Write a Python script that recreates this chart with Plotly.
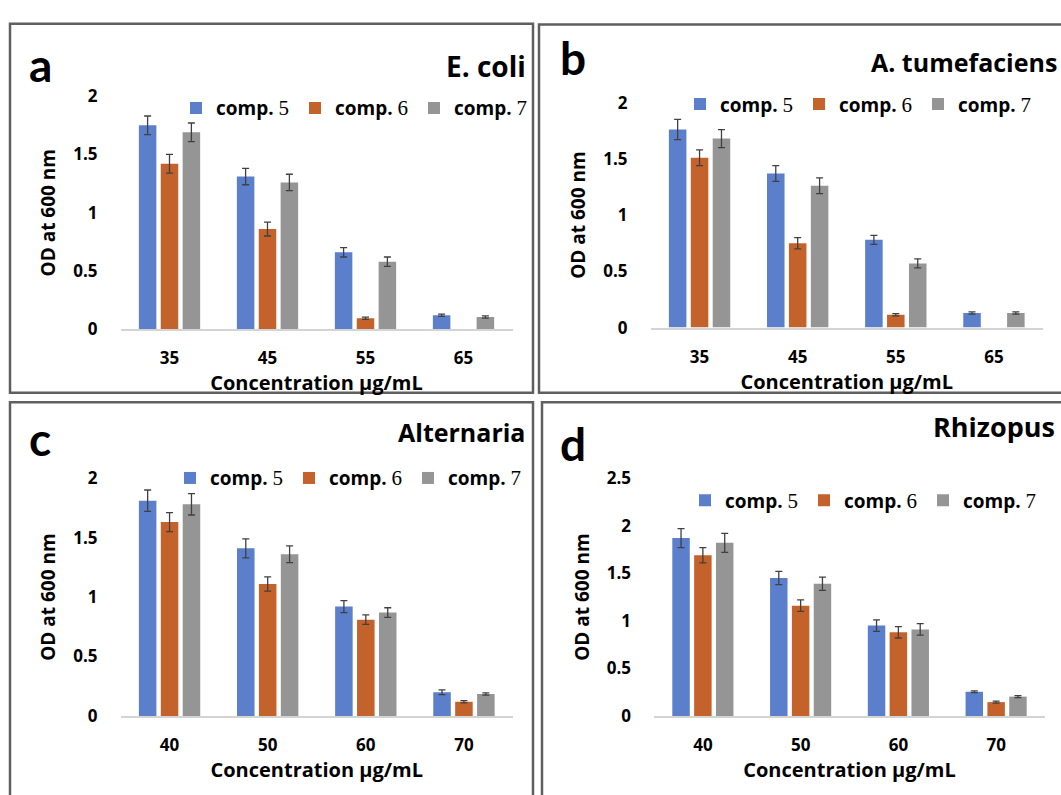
import plotly.graph_objects as go

W, H = 1061, 795

# ---------------- data ----------------
conc_bact = ["35", "45", "55", "65"]
conc_fung = ["40", "50", "60", "70"]
series_nums = ["5", "6", "7"]

# panel a: E. coli
ecoli_c5 = [1.75, 1.31, 0.66, 0.12]
ecoli_c6 = [1.42, 0.86, 0.094, None]
ecoli_c7 = [1.69, 1.26, 0.58, 0.105]
ecoli_e5 = [0.08, 0.07, 0.04, 0.01]
ecoli_e6 = [0.08, 0.06, 0.01, None]
ecoli_e7 = [0.08, 0.07, 0.04, 0.01]

# panel b: A. tumefaciens
atum_c5 = [1.76, 1.37, 0.78, 0.13]
atum_c6 = [1.51, 0.75, 0.114, None]
atum_c7 = [1.68, 1.26, 0.57, 0.13]
atum_e5 = [0.09, 0.07, 0.04, 0.01]
atum_e6 = [0.07, 0.05, 0.01, None]
atum_e7 = [0.08, 0.07, 0.04, 0.01]

# panel c: Alternaria
alt_c5 = [1.81, 1.41, 0.92, 0.20]
alt_c6 = [1.63, 1.11, 0.81, 0.12]
alt_c7 = [1.78, 1.36, 0.87, 0.185]
alt_e5 = [0.09, 0.08, 0.05, 0.02]
alt_e6 = [0.08, 0.06, 0.04, 0.01]
alt_e7 = [0.09, 0.07, 0.04, 0.01]

# panel d: Rhizopus
rhi_c5 = [1.87, 1.45, 0.95, 0.255]
rhi_c6 = [1.69, 1.16, 0.88, 0.146]
rhi_c7 = [1.82, 1.39, 0.91, 0.204]
rhi_e5 = [0.10, 0.07, 0.06, 0.01]
rhi_e6 = [0.08, 0.06, 0.06, 0.01]
rhi_e7 = [0.10, 0.07, 0.06, 0.01]

panel_letters = ["a", "b", "c", "d"]
panel_titles = ["E. coli", "A. tumefaciens", "Alternaria", "Rhizopus"]
y_ticks_3 = [0, 0.5, 1, 1.5, 2]
y_ticks_d = [0, 0.5, 1, 1.5, 2, 2.5]

colors = ["#5b7fca", "#c4622b", "#959595"]
FONT = "Open Sans"
LETTER_FONT = "Lato"
SERIF = "Liberation Serif"

def px(x):
    return x / W

def py(y):
    return 1 - y / H

panels = [
    dict(cats=conc_bact, vals=[ecoli_c5, ecoli_c6, ecoli_c7], errs=[ecoli_e5, ecoli_e6, ecoli_e7],
         xd=(120.5, 512.5), yd=(86.7, 326.7), yr=2, ticks=y_ticks_3,
         frame=(10, 12, 533, 392), letter=(27, 54), title=(528, 56), tsize=28, legend=(176, 99)),
    dict(cats=conc_bact, vals=[atum_c5, atum_c6, atum_c7], errs=[atum_e5, atum_e6, atum_e7],
         xd=(650.5, 1043), yd=(93.3, 325), yr=2, ticks=y_ticks_3,
         frame=(539, 13, 1075, 392), letter=(558, 47), title=(1059, 52), tsize=25, legend=(680, 95)),
    dict(cats=conc_fung, vals=[alt_c5, alt_c6, alt_c7], errs=[alt_e5, alt_e6, alt_e7],
         xd=(120.5, 513), yd=(480, 725), yr=2, ticks=y_ticks_3,
         frame=(10, 402, 533, 810), letter=(27, 439), title=(527, 432), tsize=25, legend=(170, 480)),
    dict(cats=conc_fung, vals=[rhi_c5, rhi_c6, rhi_c7], errs=[rhi_e5, rhi_e6, rhi_e7],
         xd=(654, 1045), yd=(480, 725), yr=2.5, ticks=y_ticks_d,
         frame=(542, 402, 1075, 810), letter=(558, 444), title=(1057, 427), tsize=27, legend=(685, 503)),
]

fig = go.Figure()
layout = dict(
    width=W, height=H, margin=dict(l=0, r=0, t=0, b=0),
    paper_bgcolor="white", plot_bgcolor="white",
    barmode="group", bargap=0.33, bargroupgap=0.2,
    font=dict(family=FONT, color="black"),
    shapes=[], annotations=[],
)

for i, p in enumerate(panels):
    n = "" if i == 0 else str(i + 1)
    xa, ya = "x" + n, "y" + n
    leg = "legend" + n
    for s in range(3):
        label = ("<b>comp.</b> <span style='font-family:%s;font-size:21px'>%s</span>"
                 % (SERIF, series_nums[s]))
        fig.add_trace(go.Bar(
            x=p["cats"], y=p["vals"][s], name=label,
            marker=dict(color=colors[s], line=dict(width=0)),
            error_y=dict(type="data", array=p["errs"][s], color="#404040", thickness=1.3, width=3.5),
            xaxis=xa, yaxis=ya, legend=leg, showlegend=True,
        ))
    layout["xaxis" + n] = dict(
        domain=[px(p["xd"][0]), px(p["xd"][1])], anchor=ya, type="category",
        showline=True, linecolor="#d4d4d4", linewidth=1.5, showgrid=False, ticks="",
        tickfont=dict(family=FONT, size=17, color="black", weight="bold"),
        ticklabelstandoff=13,
        title=dict(text="<b>Concentration µg/mL</b>", font=dict(family=FONT, size=20, color="black"),
                   standoff=0),
    )
    layout["yaxis" + n] = dict(
        domain=[py(p["yd"][1]), py(p["yd"][0])], anchor=xa, range=[0, p["yr"]],
        tickvals=p["ticks"], ticktext=[("%g" % t) for t in p["ticks"]],
        showline=False, showgrid=False, zeroline=False, ticks="",
        tickfont=dict(family=FONT, size=17, color="black", weight="bold"),
        ticklabelstandoff=22,
        title=dict(text="<b>OD at 600 nm</b>", font=dict(family=FONT, size=19, color="black"),
                   standoff=12),
    )
    layout[leg] = dict(
        orientation="h", x=px(p["legend"][0]), y=py(p["legend"][1]),
        xanchor="left", yanchor="middle", xref="paper", yref="paper",
        font=dict(family=FONT, size=19, color="black"),
        bgcolor="rgba(0,0,0,0)", itemclick=False, itemdoubleclick=False,
        entrywidth=74, entrywidthmode="pixels", tracegroupgap=0,
    )
    x0, y0, x1, y1 = p["frame"]
    layout["shapes"].append(dict(type="rect", xref="paper", yref="paper",
                                 x0=px(x0), x1=px(x1), y0=py(y1), y1=py(y0),
                                 line=dict(color="#5f5f5f", width=2.5), layer="below"))
    layout["annotations"].append(dict(
        text="<b>%s</b>" % panel_letters[i], xref="paper", yref="paper",
        x=px(p["letter"][0]), y=py(p["letter"][1]), xanchor="left", yanchor="middle",
        showarrow=False, font=dict(family=LETTER_FONT, size=46, color="black")))
    layout["annotations"].append(dict(
        text="<b>%s</b>" % panel_titles[i], xref="paper", yref="paper",
        x=px(p["title"][0]), y=py(p["title"][1]), xanchor="right", yanchor="middle",
        showarrow=False, font=dict(family=FONT, size=p["tsize"], color="black")))

fig.update_layout(**layout)
fig.write_html("out.html")
